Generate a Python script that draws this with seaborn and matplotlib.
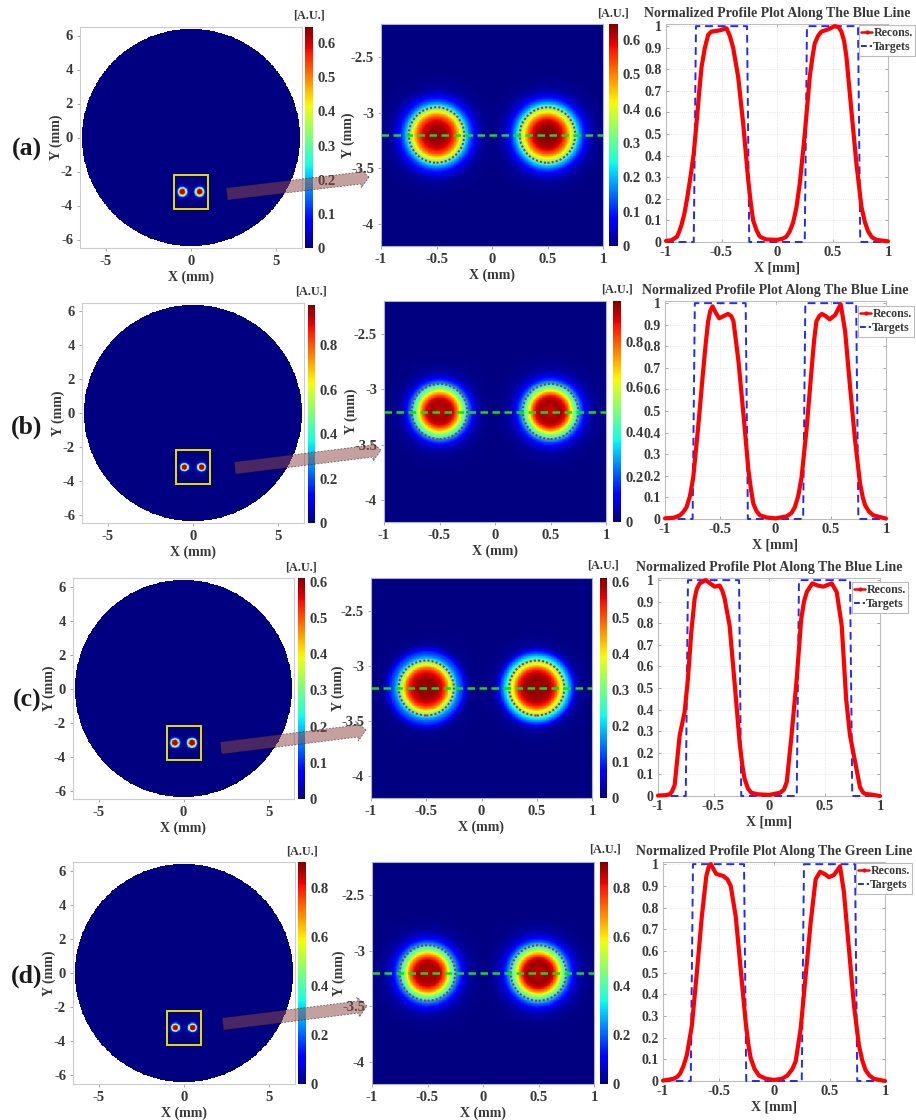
import numpy as np
import matplotlib
matplotlib.use("Agg")
import matplotlib.pyplot as plt
import matplotlib.patches as mpatches
from matplotlib.lines import Line2D
from matplotlib.transforms import Affine2D
import seaborn as sns

# ── values ────────────────────────────────
row_names = ["(a)", "(b)", "(c)", "(d)"]
line_names = ["Blue", "Blue", "Blue", "Green"]
peak_values = [0.647, 0.98, 0.61, 0.906]

profile_x_a = [-1, -0.95, -0.9, -0.88, -0.86, -0.835, -0.81, -0.78, -0.75, -0.72, -0.7, -0.68, -0.65, -0.62, -0.59,
               -0.52, -0.455, -0.425, -0.395, -0.35, -0.305, -0.26, -0.235, -0.215, -0.185, -0.155, -0.1, 0, 0.05,
               0.085, 0.115, 0.145, 0.175, 0.205, 0.25, 0.295, 0.32, 0.34, 0.37, 0.4, 0.46, 0.52, 0.555, 0.58, 0.605,
               0.625, 0.67, 0.715, 0.76, 0.79, 0.82, 0.855, 0.895, 1]
profile_y_a = [0.005, 0.008, 0.025, 0.05, 0.08, 0.13, 0.2, 0.3, 0.41, 0.58, 0.7, 0.81, 0.9, 0.96, 0.975,
               0.98, 0.99, 0.955, 0.9, 0.765, 0.55, 0.29, 0.175, 0.1, 0.055, 0.025, 0.012, 0.01, 0.015,
               0.025, 0.05, 0.09, 0.16, 0.27, 0.5, 0.765, 0.86, 0.92, 0.955, 0.975, 0.985, 1.0, 0.995, 0.975, 0.93,
               0.86, 0.61, 0.365, 0.165, 0.095, 0.05, 0.022, 0.01, 0.003]
profile_x_b = [-1, -0.92, -0.865, -0.835, -0.805, -0.775, -0.745, -0.7, -0.655, -0.63, -0.61, -0.59, -0.57, -0.54,
               -0.51, -0.47, -0.43, -0.4, -0.38, -0.335, -0.29, -0.245, -0.22, -0.2, -0.17, -0.14, -0.08, 0, 0.1,
               0.145, 0.175, 0.205, 0.235, 0.28, 0.33, 0.35, 0.37, 0.395, 0.42, 0.455, 0.49, 0.54, 0.59, 0.63, 0.675,
               0.72, 0.765, 0.79, 0.81, 0.845, 0.885, 1]
profile_y_b = [0.003, 0.006, 0.017, 0.032, 0.055, 0.105, 0.19, 0.425, 0.685, 0.82, 0.915, 0.965, 0.985, 0.955,
               0.93, 0.94, 0.95, 0.94, 0.915, 0.73, 0.485, 0.225, 0.13, 0.07, 0.035, 0.017, 0.007, 0.003, 0.012,
               0.028, 0.055, 0.105, 0.19, 0.41, 0.715, 0.83, 0.915, 0.94, 0.95, 0.94, 0.925, 0.945, 0.995, 0.87, 0.61,
               0.365, 0.165, 0.1, 0.065, 0.035, 0.017, 0.002]
profile_x_c = [-1, -0.93, -0.895, -0.875, -0.85, -0.805, -0.76, -0.73, -0.7, -0.67, -0.65, -0.625, -0.57, -0.53,
               -0.49, -0.445, -0.42, -0.4, -0.355, -0.31, -0.265, -0.24, -0.22, -0.19, -0.16, -0.1, 0, 0.1, 0.135,
               0.16, 0.2, 0.25, 0.29, 0.315, 0.34, 0.39, 0.44, 0.49, 0.565, 0.61, 0.655, 0.695, 0.73, 0.775, 0.82,
               0.845, 0.865, 0.93, 1]
profile_y_c = [0.002, 0.004, 0.008, 0.02, 0.05, 0.28, 0.39, 0.545, 0.76, 0.915, 0.96, 0.985, 1.0, 0.985,
               0.97, 0.975, 0.95, 0.915, 0.79, 0.525, 0.25, 0.14, 0.08, 0.035, 0.015, 0.008, 0.005, 0.015, 0.03,
               0.065, 0.265, 0.545, 0.82, 0.9, 0.945, 0.985, 0.975, 0.97, 0.985, 0.945, 0.79, 0.45, 0.28, 0.16, 0.04,
               0.018, 0.01, 0.006, 0.0]
profile_x_d = [-1, -0.905, -0.87, -0.845, -0.815, -0.785, -0.74, -0.695, -0.65, -0.61, -0.59, -0.57, -0.52, -0.455,
               -0.42, -0.39, -0.345, -0.3, -0.255, -0.23, -0.21, -0.175, -0.135, -0.07, 0, 0.07, 0.12, 0.165, 0.195,
               0.24, 0.285, 0.33, 0.375, 0.415, 0.455, 0.495, 0.54, 0.595, 0.63, 0.675, 0.72, 0.765, 0.795, 0.825,
               0.86, 0.9, 1]
profile_y_d = [0.002, 0.01, 0.02, 0.035, 0.07, 0.12, 0.255, 0.5, 0.76, 0.945, 0.985, 1.0, 0.955, 0.945,
               0.93, 0.9, 0.76, 0.515, 0.27, 0.165, 0.105, 0.055, 0.025, 0.01, 0.005, 0.01, 0.025, 0.055, 0.09,
               0.24, 0.485, 0.73, 0.93, 0.965, 0.955, 0.94, 0.95, 0.99, 0.87, 0.61, 0.35, 0.165, 0.095, 0.05,
               0.025, 0.01, 0.0]
profiles_x = [profile_x_a, profile_x_b, profile_x_c, profile_x_d]
profiles_y = [profile_y_a, profile_y_b, profile_y_c, profile_y_d]

target_x = [-1, -0.75, -0.73, -0.27, -0.25, 0.25, 0.27, 0.73, 0.75, 1]
target_y = [0, 0, 1, 1, 0, 0, 1, 1, 0, 0]

spot_x = [-0.5, 0.5]
spot_y = -3.2
target_radius = 0.25
disk_radius = 6.4

wide_xticks = [-5, 0, 5]
wide_yticks = [6, 4, 2, 0, -2, -4, -6]
zoom_xticks = [-1, -0.5, 0, 0.5, 1]
zoom_yticks = [-2.5, -3, -3.5, -4]
profile_yticks = [0, 0.1, 0.2, 0.3, 0.4, 0.5, 0.6, 0.7, 0.8, 0.9, 1]
cbar_ticks = [[0, 0.1, 0.2, 0.3, 0.4, 0.5, 0.6], [0, 0.2, 0.4, 0.6, 0.8],
              [0, 0.1, 0.2, 0.3, 0.4, 0.5, 0.6], [0, 0.2, 0.4, 0.6, 0.8]]

# ── layout in pixels of the 916x1120 picture: left, right, top, bottom ──────────
wide_box = [(80, 302, 27, 248), (82, 304, 303, 523), (73, 294, 578, 799), (73, 295, 862, 1084)]
wide_cbar = [(305, 313, 27, 248), (308, 315, 305, 523), (298, 305, 578, 799), (298, 306, 862, 1084)]
zoom_box = [(381, 603, 24, 246), (384, 606, 301, 522), (371, 592, 578, 798), (372, 594, 862, 1084)]
zoom_cbar = [(609, 618, 24, 246), (613, 621, 301, 522), (600, 607, 578, 798), (600, 608, 862, 1084)]
prof_box = [(666, 888, 24, 242), (665, 886, 301, 519), (658, 880, 578, 796), (663, 885, 862, 1081)]
legend_corner = [(859, 25), (858, 306), (852, 582), (856, 863)]
row_label_pos = [(27, 149), (27, 427), (27, 700), (27, 976)]
au_wide = [(309, 15), (311, 291), (301, 567), (302, 851)]
au_zoom = [(613, 13), (617, 289), (603, 566), (605, 850)]
arrow_tail = [(227, 194), (235, 468), (221, 748), (223, 1024)]
arrow_tip = [(369, 177), (381, 450), (366, 730), (367, 1006)]

W, H = 916, 1120
TXT = "#383838"

sns.set_theme(style="white")
plt.rcParams["font.family"] = ["Liberation Serif", "DejaVu Serif"]
plt.rcParams["font.weight"] = "bold"
plt.rcParams["axes.labelweight"] = "bold"
plt.rcParams["axes.titleweight"] = "bold"

fig = plt.figure(figsize=(W / 100, H / 100), dpi=100, facecolor="white")
px_tf = Affine2D().scale(1, -1).translate(0, H)


def add_ax(box):
    l, r, t, b = box
    return fig.add_axes([l / W, 1 - b / H, (r - l) / W, (b - t) / H])


def tick_text(v):
    return f"{v:g}"


def field(xx, yy, row):
    # cells take the value of the profile at their distance from the spot centre
    out = np.zeros_like(xx)
    px, py = profiles_x[row], profiles_y[row]
    for c in spot_x:
        r = np.hypot(xx - c, yy - spot_y) * 0.92
        one = 0.5 * (np.interp(c - r, px, py) + np.interp(c + r, px, py))
        out = np.where(r < 0.5, np.maximum(out, one), out)
    return out * peak_values[row]


def heat_panel(box, cbox, row, x0, x1, ytop, ybot, n, mask_disk):
    ax = add_ax(box)
    cax = add_ax(cbox)
    xs = np.linspace(x0, x1, n)
    ys = np.linspace(ytop, ybot, n)
    xx, yy = np.meshgrid(xs, ys)
    vals = field(xx, yy, row)
    mask = np.hypot(xx, yy) > disk_radius if mask_disk else None
    sns.heatmap(vals, mask=mask, cmap="jet", vmin=0, vmax=peak_values[row], ax=ax, cbar_ax=cax,
                xticklabels=False, yticklabels=False)
    tf = Affine2D().translate(-x0, -ytop).scale(n / (x1 - x0), n / (ybot - ytop)) + ax.transData
    cax.set_yticks(cbar_ticks[row])
    cax.set_yticklabels([tick_text(v) for v in cbar_ticks[row]], fontsize=10.5, color=TXT, fontweight="bold")
    cax.tick_params(axis="y", length=0, pad=3)
    return ax, tf


def set_ticks(ax, xticks, yticks, x0, x1, ytop, ybot, n):
    ax.set_xticks([(v - x0) / (x1 - x0) * n for v in xticks])
    ax.set_xticklabels([tick_text(v) for v in xticks], rotation=0, fontsize=10.5, color=TXT)
    ax.set_yticks([(v - ytop) / (ybot - ytop) * n for v in yticks])
    ax.set_yticklabels([tick_text(v) for v in yticks], rotation=0, fontsize=10.5, color=TXT)
    ax.tick_params(axis="both", length=2, width=0.6, color="#999999", pad=3, direction="out",
                   bottom=True, left=True)


for i in range(4):
    # ── full disk ──────────
    n = 400
    ax, tf = heat_panel(wide_box[i], wide_cbar[i], i, -6.5, 6.5, 6.5, -6.5, n, True)
    set_ticks(ax, wide_xticks, wide_yticks, -6.5, 6.5, 6.5, -6.5, n)
    for s in ax.spines.values():
        s.set_visible(True)
        s.set_color("#cccccc")
        s.set_linewidth(0.8)
    ax.add_patch(mpatches.Rectangle((-1, -4.2), 2, 2, transform=tf, fill=False, ec="#e6e000", lw=1.4))
    ax.set_xlabel("X (mm)", fontsize=10, color=TXT, labelpad=1.5)
    ax.set_ylabel("Y (mm)", fontsize=10, color=TXT)
    ax.yaxis.set_label_coords(-17 / 222, 0.5)

    # ── zoomed view ──────────
    n = 300
    ax, tf = heat_panel(zoom_box[i], zoom_cbar[i], i, -1, 1, -2.2, -4.2, n, False)
    set_ticks(ax, zoom_xticks, zoom_yticks, -1, 1, -2.2, -4.2, n)
    for s in ax.spines.values():
        s.set_visible(True)
        s.set_color("#aab0d8")
        s.set_linewidth(0.8)
    for c in spot_x:
        ax.add_patch(mpatches.Circle((c, spot_y), target_radius, transform=tf, fill=False, ec="#ff1010",
                                     lw=1.5, ls=(0, (1, 1))))
    ax.add_line(Line2D([-1, 1], [spot_y, spot_y], transform=tf, color="#10e010", lw=1.8, ls=(0, (3, 1.8))))
    ax.set_xlabel("X (mm)", fontsize=10, color=TXT, labelpad=1.5)
    ax.set_ylabel("Y (mm)", fontsize=10, color=TXT)
    ax.yaxis.set_label_coords(-26 / 222, 0.5)

    # ── profile along the line ──────────
    ax = add_ax(prof_box[i])
    sns.lineplot(x=target_x, y=target_y, ax=ax, color="#1f2bff", lw=1.4, ls=(0, (4, 2.5)), sort=False,
                 estimator=None, clip_on=False, zorder=2.6)
    sns.lineplot(x=profiles_x[i], y=profiles_y[i], ax=ax, color="#ff0000", lw=3.0, sort=False,
                 estimator=None, clip_on=False, zorder=3, solid_joinstyle="round")
    ax.set_xlim(-1, 1)
    ax.set_ylim(0, 1.01)
    ax.set_xticks(zoom_xticks)
    ax.set_xticklabels([tick_text(v) for v in zoom_xticks], fontsize=10.5, color=TXT)
    ax.set_yticks(profile_yticks)
    ax.set_yticklabels([tick_text(v) for v in profile_yticks], fontsize=10, color=TXT)
    ax.tick_params(axis="both", length=2, width=0.6, color="#999999", pad=3, direction="in",
                   top=True, right=True, bottom=True, left=True)
    ax.grid(True, color="#e2e2e2", lw=0.6, ls=":")
    ax.set_axisbelow(True)
    for s in ax.spines.values():
        s.set_color("#bdbdbd")
        s.set_linewidth(0.8)
    ax.set_xlabel("X [mm]", fontsize=10, color=TXT, labelpad=1.5)
    ax.set_title(f"Normalized Profile Plot Along The {line_names[i]} Line", fontsize=10, color=TXT, pad=5)
    handles = [Line2D([], [], color="#ff0000", lw=1.8, marker="o", ms=2),
               Line2D([], [], color="#1f2bff", lw=1.4, ls=(0, (3, 1.5)))]
    lx, ly = legend_corner[i]
    leg = ax.legend(handles, ["Recons.", "Targets"], loc="upper left", bbox_to_anchor=(lx / W, 1 - ly / H),
                    bbox_transform=fig.transFigure, fontsize=8.6, frameon=True, fancybox=False,
                    framealpha=1, edgecolor="#bbbbbb", borderaxespad=0, borderpad=0.2, handlelength=0.9,
                    handletextpad=0.1, labelspacing=0.15, labelcolor=TXT)
    leg.get_frame().set_linewidth(0.8)

    # ── figure-level marks ──────────
    fig.text(row_label_pos[i][0] / W, 1 - row_label_pos[i][1] / H, row_names[i], fontsize=18.5,
             ha="center", va="center", color="#1a1a1a")
    for pos in (au_wide[i], au_zoom[i]):
        fig.text(pos[0] / W, 1 - pos[1] / H, "[A.U.]", fontsize=8.8, ha="center", va="center", color=TXT)
    (x0, y0), (x1, y1) = arrow_tail[i], arrow_tip[i]
    arrow = mpatches.FancyArrow(x0, y0, x1 - x0, y1 - y0, width=12, head_width=20, head_length=9,
                                length_includes_head=True, transform=px_tf, facecolor=(0.56, 0.29, 0.28, 0.52),
                                edgecolor=(0.1, 0.1, 0.1, 0.6), lw=0.6, ls=(0, (2, 2)), zorder=5)
    fig.add_artist(arrow)

fig.savefig("out.png", dpi=100)
